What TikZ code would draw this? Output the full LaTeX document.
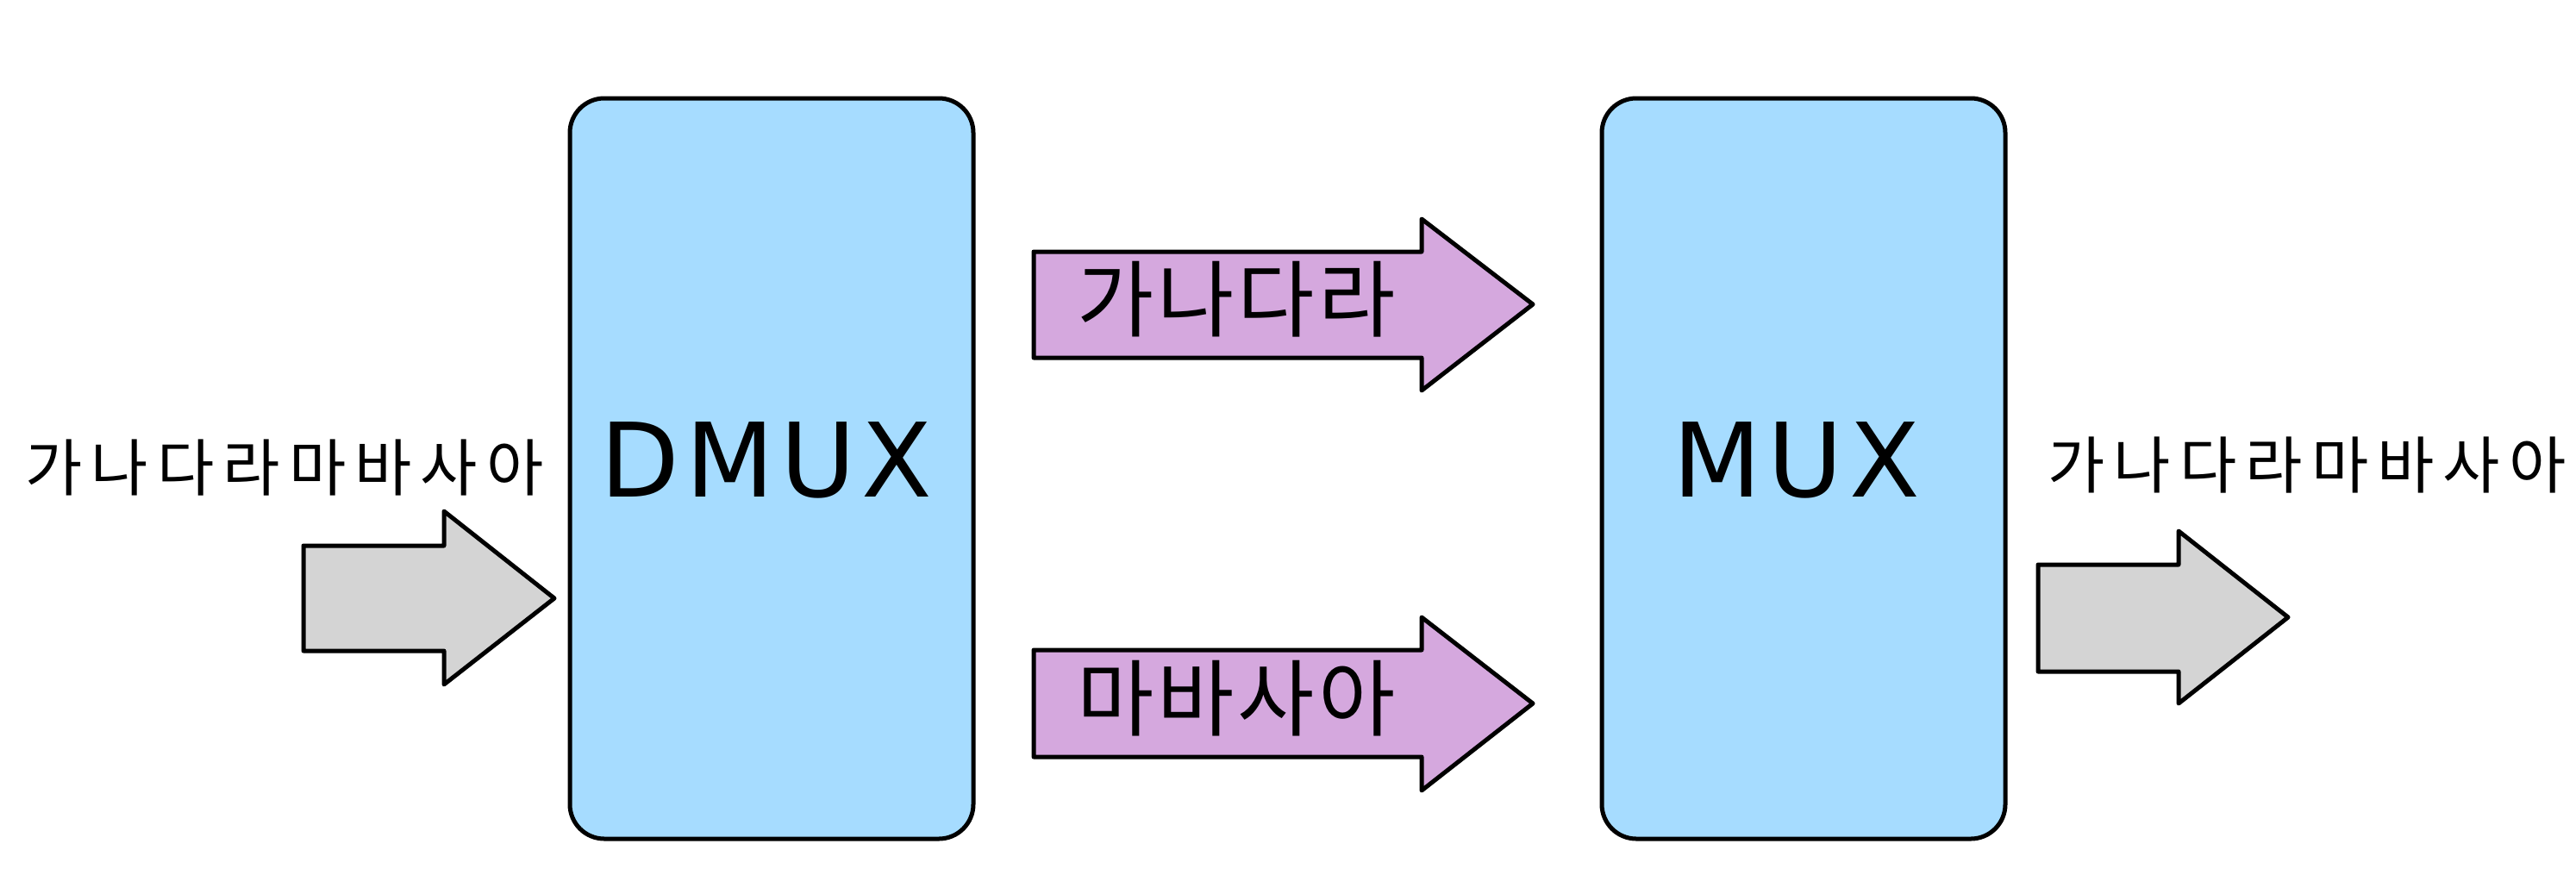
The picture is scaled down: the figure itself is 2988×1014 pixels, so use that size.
\documentclass[tikz,border=0pt]{standalone}
\usepackage{fontspec}
\newfontfamily\krfont[LetterSpace=14]{Noto Sans CJK KR}
\newfontfamily\krmidfont[LetterSpace=4]{Noto Sans CJK KR}
\newfontfamily\latfont[LetterSpace=6]{DejaVu Sans}
\definecolor{boxblue}{RGB}{166,220,255}
\definecolor{arrpurple}{RGB}{213,168,222}
\definecolor{arrgrey}{RGB}{212,212,212}
\begin{document}
\begin{tikzpicture}[x=0.01cm,y=-0.01cm,
  outl/.style={draw=black,line width=0.05cm,line join=round},
  muxbox/.style={outl,fill=boxblue,rounded corners=0.4cm},
  greyarrow/.style={outl,fill=arrgrey},
  purplearrow/.style={outl,fill=arrpurple},
  smalltext/.style={inner sep=0pt,font=\krfont\fontsize{20.5pt}{25pt}\selectfont},
  midtext/.style={inner sep=0pt,font=\krmidfont\fontsize{27.6pt}{32pt}\selectfont},
  boxlabel/.style={inner sep=0pt,font=\latfont\fontsize{33.9pt}{40pt}\selectfont}]
\useasboundingbox (0,0) rectangle (2988,1014);
% boxes
\draw[muxbox] (661,114) rectangle (1129,973);
\draw[muxbox] (1858,114) rectangle (2326,973);
\node[boxlabel] (dmux) at (889,533.5) {DMUX};
\node[boxlabel] (mux) at (2084,533.5) {MUX};
% arrows
\draw[greyarrow] (352,633) -- (515,633) -- (515,593) -- (643,694) -- (515,794) -- (515,755) -- (352,755) -- cycle;
\draw[purplearrow] (1199,292) -- (1649,292) -- (1649,254) -- (1778,353) -- (1649,453) -- (1649,415) -- (1199,415) -- cycle;
\draw[purplearrow] (1199,754) -- (1649,754) -- (1649,716) -- (1778,816) -- (1649,917) -- (1649,878) -- (1199,878) -- cycle;
\draw[greyarrow] (2364,655) -- (2527,655) -- (2527,616) -- (2654,716) -- (2527,816) -- (2527,779) -- (2364,779) -- cycle;
% texts
\node[smalltext] (intext) at (330,542.5) {가나다라마바사아};
\node[smalltext] (outtext) at (2676,540) {가나다라마바사아};
\node[midtext] (toptext) at (1434,347) {가나다라};
\node[midtext] (bottext) at (1434,810.5) {마바사아};
\end{tikzpicture}
\end{document}
